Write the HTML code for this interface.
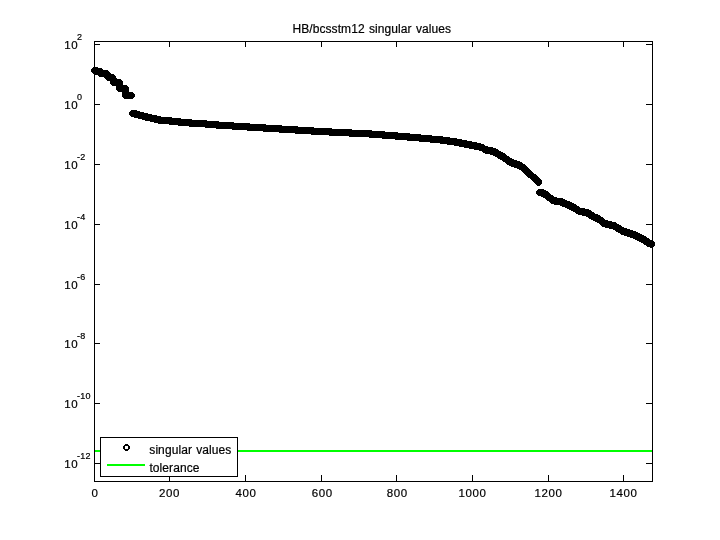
<!DOCTYPE html>
<html><head><meta charset="utf-8"><title>HB/bcsstm12 singular values</title>
<style>
html,body{margin:0;padding:0;background:#fff;}
body{width:720px;height:540px;overflow:hidden;}
svg{display:block;will-change:transform;}
text{font-family:"Liberation Sans",sans-serif;fill:#000;stroke:#000;stroke-width:0.2px;}
.t{font-size:12px;letter-spacing:0.08px;word-spacing:0.9px;}
.n{font-size:11.5px;letter-spacing:0.6px;}
.e{font-size:9px;letter-spacing:0.3px;}
</style></head><body>
<svg width="720" height="540" viewBox="0 0 720 540">
<rect x="0" y="0" width="720" height="540" fill="#fff"/>
<rect x="94" y="450" width="558" height="2" fill="#00ff00" shape-rendering="crispEdges"/>
<path fill="#000" shape-rendering="crispEdges" d="M93 67h5v1h-5zM92 68h10v1h-10zM91 69h12v1h-12zM91 70h17v1h-17zM91 71h18v1h-18zM92 72h18v1h-18zM93 73h18v1h-18zM95 74h19v1h-19zM98 75h17v1h-17zM99 76h17v1h-17zM104 77h12v1h-12zM105 78h12v1h-12zM106 79h15v1h-15zM107 80h15v1h-15zM110 81h13v1h-13zM110 82h13v1h-13zM110 83h13v1h-13zM111 84h12v1h-12zM112 85h15v1h-15zM116 86h12v1h-12zM116 87h13v1h-13zM116 88h13v1h-13zM116 89h13v1h-13zM117 90h12v1h-12zM118 91h11v1h-11zM122 92h11v1h-11zM122 93h12v1h-12zM122 94h13v1h-13zM122 95h13v1h-13zM122 96h13v1h-13zM123 97h11v1h-11zM124 98h9v1h-9zM131 110h6v1h-6zM130 111h10v1h-10zM129 112h15v1h-15zM129 113h19v1h-19zM129 114h23v1h-23zM130 115h27v1h-27zM131 116h30v1h-30zM134 117h38v1h-38zM138 118h43v1h-43zM142 119h50v1h-50zM145 120h62v1h-62zM150 121h69v1h-69zM154 122h80v1h-80zM158 123h92v1h-92zM169 124h97v1h-97zM178 125h104v1h-104zM189 126h109v1h-109zM205 127h109v1h-109zM216 128h116v1h-116zM232 129h120v1h-120zM247 130h125v1h-125zM263 131h122v1h-122zM279 132h119v1h-119zM295 133h115v1h-115zM311 134h110v1h-110zM329 135h103v1h-103zM349 136h94v1h-94zM369 137h81v1h-81zM382 138h75v1h-75zM395 139h67v1h-67zM407 140h60v1h-60zM419 141h53v1h-53zM430 142h47v1h-47zM440 143h41v1h-41zM447 144h37v1h-37zM454 145h31v1h-31zM459 146h29v1h-29zM464 147h29v1h-29zM469 148h27v1h-27zM474 149h24v1h-24zM479 150h20v1h-20zM482 151h19v1h-19zM483 152h20v1h-20zM485 153h20v1h-20zM490 154h16v1h-16zM493 155h14v1h-14zM495 156h14v1h-14zM497 157h13v1h-13zM498 158h14v1h-14zM500 159h14v1h-14zM502 160h15v1h-15zM503 161h17v1h-17zM505 162h17v1h-17zM506 163h17v1h-17zM507 164h18v1h-18zM509 165h17v1h-17zM511 166h16v1h-16zM514 167h14v1h-14zM517 168h12v1h-12zM519 169h11v1h-11zM521 170h10v1h-10zM522 171h10v1h-10zM523 172h10v1h-10zM524 173h10v1h-10zM525 174h11v1h-11zM526 175h11v1h-11zM527 176h11v1h-11zM528 177h11v1h-11zM530 178h10v1h-10zM531 179h10v1h-10zM532 180h10v1h-10zM533 181h9v1h-9zM534 182h8v1h-8zM535 183h7v1h-7zM536 184h5v1h-5zM537 185h3v1h-3zM538 189h6v1h-6zM537 190h9v1h-9zM536 191h12v1h-12zM536 192h13v1h-13zM536 193h14v1h-14zM537 194h14v1h-14zM538 195h15v1h-15zM541 196h13v1h-13zM543 197h14v1h-14zM545 198h18v1h-18zM546 199h19v1h-19zM547 200h20v1h-20zM549 201h21v1h-21zM550 202h22v1h-22zM551 203h23v1h-23zM554 204h22v1h-22zM560 205h17v1h-17zM562 206h17v1h-17zM565 207h15v1h-15zM567 208h18v1h-18zM569 209h20v1h-20zM571 210h20v1h-20zM573 211h19v1h-19zM575 212h19v1h-19zM576 213h19v1h-19zM578 214h20v1h-20zM582 215h18v1h-18zM586 216h15v1h-15zM588 217h15v1h-15zM589 218h15v1h-15zM591 219h14v1h-14zM593 220h15v1h-15zM595 221h17v1h-17zM597 222h19v1h-19zM599 223h18v1h-18zM600 224h19v1h-19zM601 225h20v1h-20zM602 226h20v1h-20zM605 227h19v1h-19zM609 228h18v1h-18zM613 229h17v1h-17zM615 230h18v1h-18zM616 231h20v1h-20zM618 232h20v1h-20zM620 233h20v1h-20zM621 234h21v1h-21zM624 235h20v1h-20zM627 236h19v1h-19zM630 237h17v1h-17zM633 238h16v1h-16zM635 239h15v1h-15zM637 240h16v1h-16zM639 241h15v1h-15zM641 242h14v1h-14zM643 243h12v1h-12zM644 244h11v1h-11zM646 245h9v1h-9zM647 246h7v1h-7zM650 247h3v1h-3z"/>
<g fill="#000" shape-rendering="crispEdges">
<rect x="94" y="41" width="559" height="1"/><rect x="94" y="481" width="559" height="1"/><rect x="94" y="41" width="1" height="441"/><rect x="652" y="41" width="1" height="441"/>
<rect x="169" y="475" width="1" height="6"/><rect x="169" y="42" width="1" height="5"/><rect x="245" y="475" width="1" height="6"/><rect x="245" y="42" width="1" height="5"/><rect x="321" y="475" width="1" height="6"/><rect x="321" y="42" width="1" height="5"/><rect x="396" y="475" width="1" height="6"/><rect x="396" y="42" width="1" height="5"/><rect x="472" y="475" width="1" height="6"/><rect x="472" y="42" width="1" height="5"/><rect x="548" y="475" width="1" height="6"/><rect x="548" y="42" width="1" height="5"/><rect x="623" y="475" width="1" height="6"/><rect x="623" y="42" width="1" height="5"/>
<rect x="95" y="44" width="5" height="1"/><rect x="646" y="44" width="6" height="1"/><rect x="95" y="104" width="5" height="1"/><rect x="646" y="104" width="6" height="1"/><rect x="95" y="164" width="5" height="1"/><rect x="646" y="164" width="6" height="1"/><rect x="95" y="224" width="5" height="1"/><rect x="646" y="224" width="6" height="1"/><rect x="95" y="284" width="5" height="1"/><rect x="646" y="284" width="6" height="1"/><rect x="95" y="343" width="5" height="1"/><rect x="646" y="343" width="6" height="1"/><rect x="95" y="403" width="5" height="1"/><rect x="646" y="403" width="6" height="1"/><rect x="95" y="463" width="5" height="1"/><rect x="646" y="463" width="6" height="1"/>
</g>
<rect x="100.5" y="437.5" width="137" height="39" fill="#fff" stroke="#000" stroke-width="1" shape-rendering="crispEdges"/>
<path fill="#000" shape-rendering="crispEdges" d="M125 444h3v1h1v1h1v3h-1v1h-1v1h-3v-1h-1v-1h-1v-3h1v-1h1zM125 446v3h3v-3z" fill-rule="evenodd"/>
<rect x="107" y="464" width="38" height="2" fill="#00ff00" shape-rendering="crispEdges"/>
<text class="t" x="149.3" y="454">singular values</text>
<text class="t" x="149.4" y="472">tolerance</text>
<text class="t" x="371.8" y="33" text-anchor="middle">HB/bcsstm12 singular values</text>
<text class="n" x="95.0" y="497" text-anchor="middle">0</text><text class="n" x="169.5" y="497" text-anchor="middle">200</text><text class="n" x="246.0" y="497" text-anchor="middle">400</text><text class="n" x="322.2" y="497" text-anchor="middle">600</text><text class="n" x="397.2" y="497" text-anchor="middle">800</text><text class="n" x="472.5" y="497" text-anchor="middle">1000</text><text class="n" x="548.5" y="497" text-anchor="middle">1200</text><text class="n" x="623.5" y="497" text-anchor="middle">1400</text>
<text class="n" x="64.2" y="49">10</text><text class="e" x="77" y="40">2</text><text class="n" x="64.2" y="109">10</text><text class="e" x="77" y="100">0</text><text class="n" x="64.2" y="169">10</text><text class="e" x="77" y="160">-2</text><text class="n" x="64.2" y="229">10</text><text class="e" x="77" y="220">-4</text><text class="n" x="64.2" y="289">10</text><text class="e" x="77" y="280">-6</text><text class="n" x="64.2" y="348">10</text><text class="e" x="77" y="339">-8</text><text class="n" x="64.2" y="408">10</text><text class="e" x="77" y="399">-10</text><text class="n" x="64.2" y="468">10</text><text class="e" x="77" y="459">-12</text>
</svg>
</body></html>
